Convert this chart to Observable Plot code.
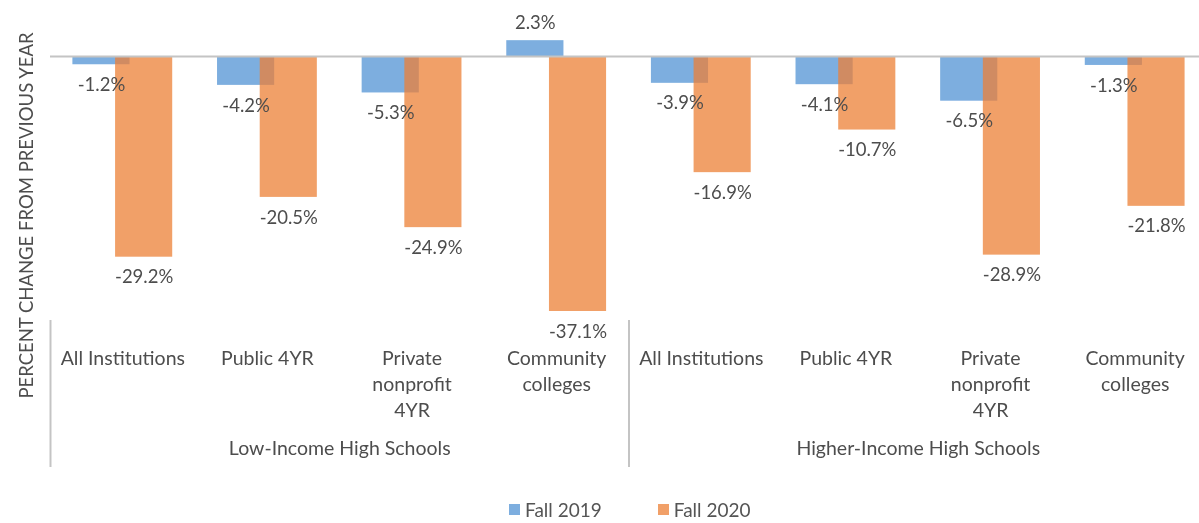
<!DOCTYPE html>
<html>
<head>
<meta charset="utf-8">
<script src="https://cdn.jsdelivr.net/npm/d3@7"></script>
<script src="https://cdn.jsdelivr.net/npm/@observablehq/plot@0.6"></script>
<style>
  html, body { margin: 0; padding: 0; background: #fff; }
  body { width: 1199px; height: 523px; position: relative; font-family: Lato, "Open Sans", sans-serif; color: #555; }
  #legend { position: absolute; top: 498px; left: 0; width: 1199px; display: flex; align-items: center; font-size: 19px; }
  #legend .item { display: flex; align-items: center; }
  #legend .sw { width: 11px; height: 11px; margin-right: 5px; }
</style>
</head>
<body>
<div id="chart"></div>
<div id="legend"></div>
<script>
// ---- data ----
const categories = ["All Institutions", "Public 4YR", "Private\nnonprofit\n4YR", "Community\ncolleges"];
const groups = ["Low-Income High Schools", "Higher-Income High Schools"];
const seriesNames = ["Fall 2019", "Fall 2020"];
const fall2019 = [-1.2, -4.2, -5.3, 2.3, -3.9, -4.1, -6.5, -1.3];
const fall2020 = [-29.2, -20.5, -24.9, -37.1, -16.9, -10.7, -28.9, -21.8];
const colors = ["#7DAEDF", "#F1A068"];

// ---- build table ----
const offsets = [0.155, 0.45];
const barW = 0.395;
const rows = [];
[fall2019, fall2020].forEach((vals, s) => {
  vals.forEach((v, i) => {
    rows.push({i, series: seriesNames[s], s, value: v,
      x1: i + offsets[s], x2: i + offsets[s] + barW, xc: i + offsets[s] + barW / 2,
      label: v.toFixed(1) + "%"});
  });
});
const blue = rows.filter(d => d.s === 0);
const orange = rows.filter(d => d.s === 1);
const catRows = d3.range(8).map(i => ({x: i + 0.5, text: categories[i % 4]}));
const groupRows = groups.map((g, k) => ({x: k * 4 + 2, text: g}));

const txt = "#4d4d4d";
const chart = Plot.plot({
  width: 1199,
  height: 480,
  marginLeft: 50,
  marginRight: 0,
  marginTop: 0,
  marginBottom: 0,
  style: {fontFamily: "Lato, 'Open Sans', sans-serif", background: "#fff"},
  x: {type: "linear", domain: [0, 8], range: [50, 1207], axis: null},
  y: {domain: [0, -37.1], range: [56, 311], axis: null},
  marks: [
    // base blue (lighter, later multiplied)
    Plot.rectY(blue, {x1: "x1", x2: "x2", y1: 0, y2: "value", fill: "#91C8ED"}),
    Plot.rectY(orange, {x1: "x1", x2: "x2", y1: 0, y2: "value", fill: colors[1]}),
    Plot.rectY(blue, {x1: "x1", x2: "x2", y1: 0, y2: "value", fill: "#DCDEF0", mixBlendMode: "multiply"}),
    Plot.ruleY([0], {stroke: "#c4c4c4", strokeWidth: 2}),
    // value labels
    Plot.text(rows.filter(d => d.value < 0), {x: "xc", y: "value", text: "label", lineAnchor: "top", dy: 13, fontSize: 18.5, fill: txt}),
    Plot.text(rows.filter(d => d.value >= 0), {x: "xc", y: "value", text: "label", lineAnchor: "bottom", dy: -12, fontSize: 18.5, fill: txt}),
    // separators
    Plot.ruleX([0, 4, 8], {stroke: "#c4c4c4", strokeWidth: 2, insetTop: 320, insetBottom: 13}),
    // category labels
    Plot.text(catRows, {x: "x", text: "text", frameAnchor: "top", lineAnchor: "top", dy: 346, fontSize: 19.5, lineHeight: 1.34, fill: txt}),
    Plot.text(groupRows, {x: "x", text: "text", frameAnchor: "top", lineAnchor: "top", dy: 441, fontSize: 19.5, fill: txt}),
    // y axis title
    Plot.text(["PERCENT CHANGE FROM PREVIOUS YEAR"], {frameAnchor: "top-left", textAnchor: "middle", dx: -31, dy: 215, rotate: -90, fontSize: 18.5, fill: txt})
  ]
});
document.getElementById("chart").appendChild(chart);

// legend
const leg = document.getElementById("legend");
leg.style.paddingLeft = "509px";
seriesNames.forEach((name, k) => {
  const it = document.createElement("div");
  it.className = "item";
  if (k > 0) it.style.marginLeft = "56px";
  const sw = document.createElement("span");
  sw.className = "sw";
  sw.style.background = colors[k];
  const t = document.createElement("span");
  t.textContent = name;
  it.appendChild(sw); it.appendChild(t);
  leg.appendChild(it);
});
</script>
</body>
</html>
